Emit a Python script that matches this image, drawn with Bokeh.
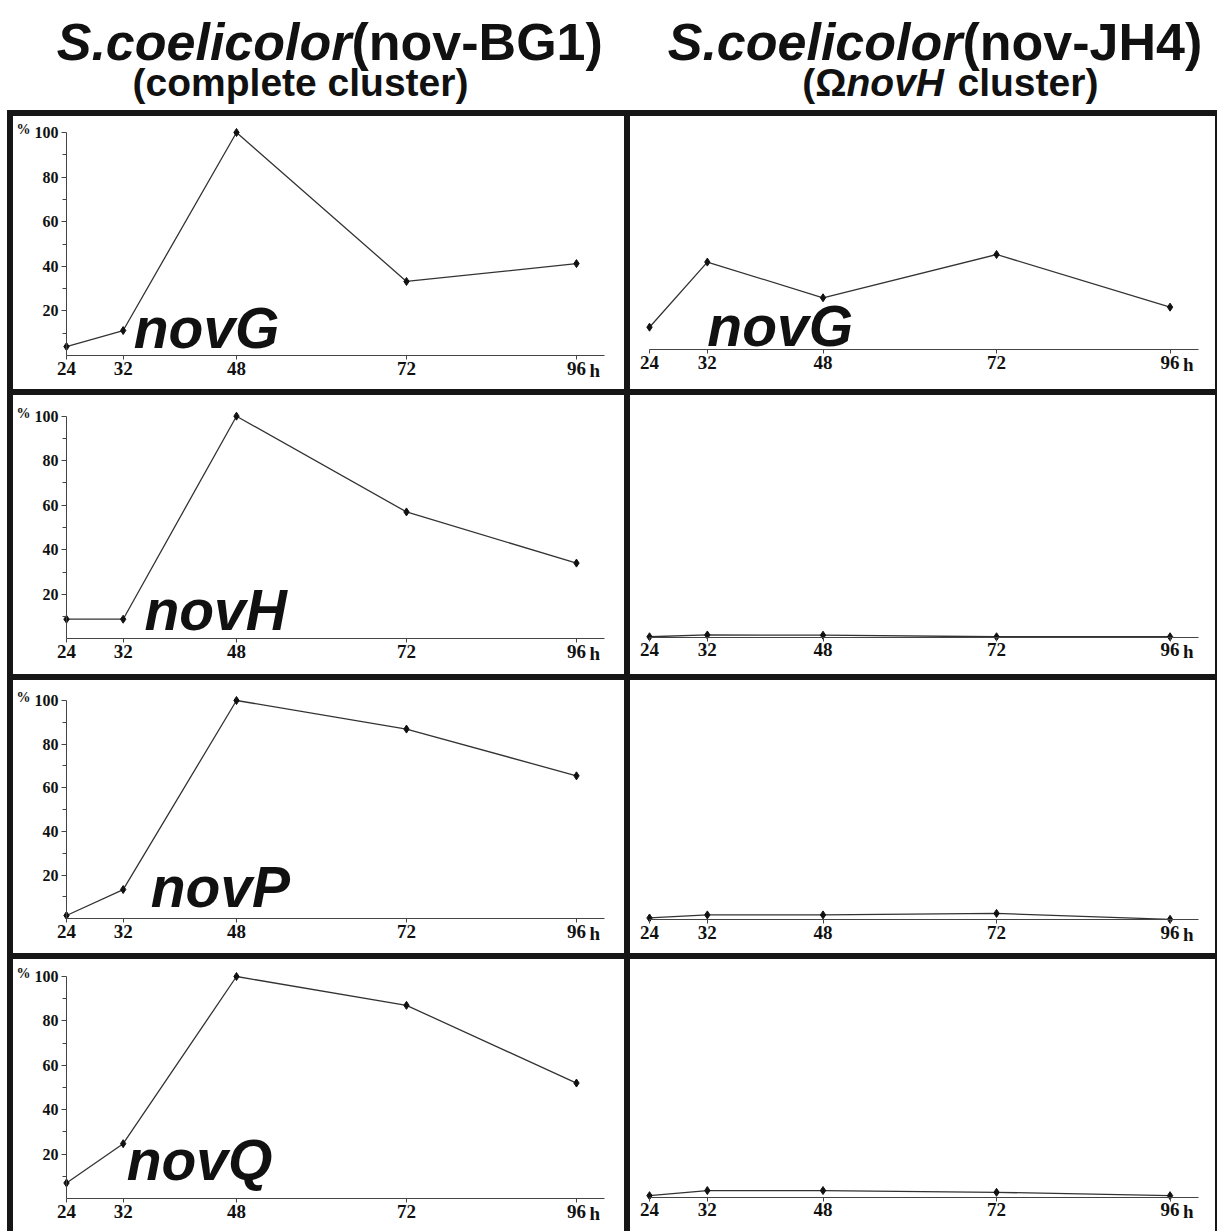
from bokeh.plotting import figure
from bokeh.layouts import row, column
from bokeh.models import Range1d, FixedTicker, Label, Spacer
from bokeh.core.properties import value
from bokeh.embed import file_html
from bokeh.resources import INLINE

# ---------------- data ----------------
hours = [24, 32, 48, 72, 96]
genes = ["novG", "novH", "novP", "novQ"]
strain_titles = ["(nov-BG1)", "(nov-JH4)"]
species = "S.coelicolor"

# relative expression (%) - S.coelicolor(nov-BG1), complete cluster
bg1_novG = [4.0, 11.2, 100, 33.2, 41.2]
bg1_novH = [8.8, 8.8, 100, 57.0, 34.0]
bg1_novP = [1.5, 13.4, 100, 86.9, 65.5]
bg1_novQ = [7.0, 24.7, 100, 87.0, 52.0]
# relative expression (%) - S.coelicolor(nov-JH4), OmegaNovH cluster
jh4_novG = [10.0, 39.2, 23.2, 42.6, 19.0]
jh4_novH = [0.2, 1.0, 0.9, 0.2, 0.2]
jh4_novP = [0.7, 2.1, 2.1, 2.8, 0.1]
jh4_novQ = [0.7, 3.0, 3.0, 2.2, 0.7]

y_ticks = [20, 40, 60, 80, 100]
y_minor = [10, 30, 50, 70, 90]

bg1 = [bg1_novG, bg1_novH, bg1_novP, bg1_novQ]
jh4 = [jh4_novG, jh4_novH, jh4_novP, jh4_novQ]

# ---------------- styling / geometry ----------------
TEXT = "#111111"
BORDER = "#161616"
LINE = "#333333"
SERIF = "Liberation Serif"
SANS = "Liberation Sans"

PAGE_W = 1217
HEAD_H = 110
LEFT_PAD = 7
BW = 6
COL_W = [611, 585]
ROW_H = [273, 279, 273, 272]
# per row: px offset of 100 % line from cell top, zero line (left col), zero line (right col)
ROW_GEOM = [(16, 239, 233), (20.7, 243.3, 241.7), (20, 238.3, 239), (17, 239, 237.7)]
# per column: px of hour 24 from cell left, px per hour
COL_GEOM = [(53, 7.083), (19, 7.23)]
# gene label anchors (hour, percent) and a pixel lift for the text baseline
LABEL_LEFT = [(33.5, 2.8), (35.0, 3.7), (35.9, 5.0), (32.5, 8.1)]
LABEL_RIGHT_G = (32.0, 1.3)
LABEL_LIFT_PX = 21


def make_panel(ci, ri, values, gene_label):
    w, h = COL_W[ci], ROW_H[ri]
    x24, pxh = COL_GEOM[ci]
    top100, z_left, z_right = ROW_GEOM[ri]
    pxy = (z_left - top100) / 100.0
    zero = z_left if ci == 0 else z_right
    xr = Range1d(24 - x24 / pxh, 24 + (w - x24) / pxh)
    yr = Range1d(-(h - zero) / pxy, zero / pxy)
    p = figure(width=w, height=h, x_range=xr, y_range=yr,
               output_backend="svg", toolbar_location=None,
               min_border=0, background_fill_color="white",
               border_fill_color="white")
    p.outline_line_color = None
    p.grid.visible = False

    xa = p.xaxis[0]
    xa.fixed_location = 0
    xa.bounds = (24, 100)
    xa.ticker = FixedTicker(ticks=hours, minor_ticks=[])
    xa.axis_line_color = "#444444"
    xa.axis_line_width = 1
    xa.major_tick_line_color = "#444444"
    xa.major_tick_in = 0
    xa.major_tick_out = 4
    xa.minor_tick_line_color = None
    xa.major_label_text_font = SERIF
    xa.major_label_text_font_style = "bold"
    xa.major_label_text_font_size = "19px"
    xa.major_label_text_color = TEXT
    xa.major_label_standoff = 2

    if ci == 0:
        ya = p.yaxis[0]
        ya.fixed_location = 24
        ya.bounds = (0, 100)
        ya.ticker = FixedTicker(ticks=y_ticks, minor_ticks=y_minor)
        ya.axis_line_color = "#444444"
        ya.major_tick_line_color = "#444444"
        ya.minor_tick_line_color = "#444444"
        ya.major_tick_in = 0
        ya.major_tick_out = 5
        ya.minor_tick_in = 0
        ya.minor_tick_out = 4
        ya.major_label_text_font = SERIF
        ya.major_label_text_font_style = "bold"
        ya.major_label_text_font_size = "16px"
        ya.major_label_text_color = TEXT
        ya.major_label_standoff = 3
        p.add_layout(Label(x=24, y=100, x_offset=-36, y_offset=3, text="%",
                           text_align="right", text_baseline="middle",
                           text_font=SERIF, text_font_style="bold",
                           text_font_size="14px", text_color=TEXT))
    else:
        p.yaxis.visible = False

    p.add_layout(Label(x=96, y=0, x_offset=13, y_offset=-4, text="h",
                       text_align="left", text_baseline="top",
                       text_font=SERIF, text_font_style="bold",
                       text_font_size="19px", text_color=TEXT))

    p.line(hours, values, line_color=LINE, line_width=1.3)
    if gene_label is not None:
        (lx, ly), name = gene_label
        p.text(x=[lx], y=[ly + LABEL_LIFT_PX / pxy], text=[name],
               text_font=value(SANS), text_font_style="bold italic",
               text_font_size="57px", text_color=TEXT,
               text_baseline="alphabetic", text_align="left")
    p.scatter(hours, values, marker="diamond", size=8,
              fill_color="#111111", line_color="#111111")
    return p


# ---------------- header ----------------
hd = figure(width=PAGE_W, height=HEAD_H, x_range=Range1d(0, PAGE_W),
            y_range=Range1d(HEAD_H, 0), output_backend="svg",
            toolbar_location=None, min_border=0)
hd.axis.visible = False
hd.grid.visible = False
hd.outline_line_color = None


def htext(x, y, t, style, size, align):
    hd.text(x=[x], y=[y], text=[t], text_font=value(SANS),
            text_font_style=style, text_font_size=size, text_color=TEXT,
            text_align=align, text_baseline="alphabetic")


for cx, strain in zip([351, 962], strain_titles):
    htext(cx, 41, species, "bold italic", "52px", "right")
    htext(cx, 41, strain, "bold", "52px", "left")

htext(300, 82, "(complete cluster)", "bold", "39px", "center")
htext(846, 82, "(\u03a9", "bold", "39px", "right")
htext(846, 82, "novH", "bold italic", "39px", "left")
htext(957, 82, "cluster)", "bold", "39px", "left")


# ---------------- layout ----------------
def bar(w, h):
    return Spacer(width=w, height=h, styles={"background-color": BORDER})


inner_w = BW + COL_W[0] + BW + COL_W[1] + 2
items = [hd, row(Spacer(width=LEFT_PAD, height=BW), bar(inner_w, BW))]
for ri in range(4):
    h = ROW_H[ri]
    left = make_panel(0, ri, bg1[ri], (LABEL_LEFT[ri], genes[ri]))
    right = make_panel(1, ri, jh4[ri], (LABEL_RIGHT_G, genes[0]) if ri == 0 else None)
    items.append(row(Spacer(width=LEFT_PAD, height=h), bar(BW, h), left,
                     bar(BW, h), right, bar(2, h)))
    if ri < 3:
        items.append(row(Spacer(width=LEFT_PAD, height=BW), bar(inner_w, BW)))

layout = column(*items)

open("out.html", "w").write(file_html(layout, INLINE))
